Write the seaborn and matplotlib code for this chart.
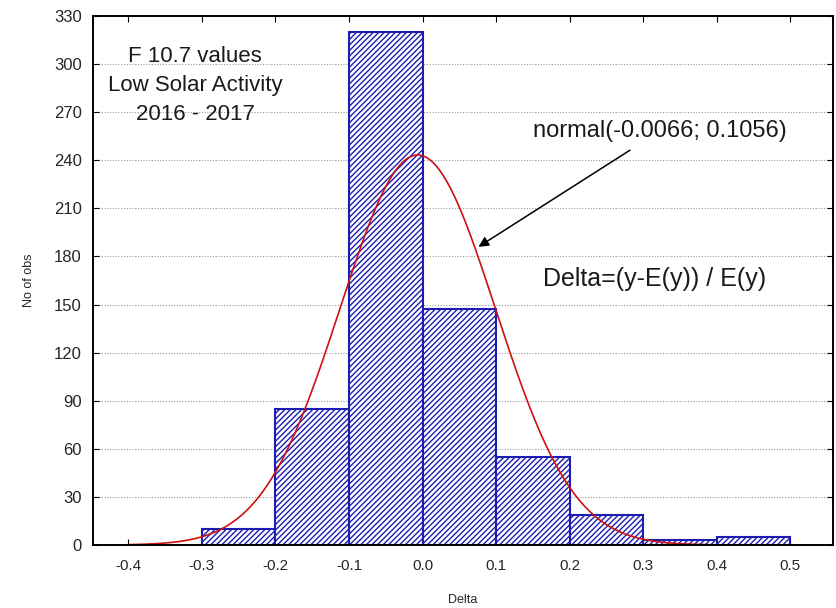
import numpy as np
import pandas as pd
import matplotlib
matplotlib.use("Agg")
import matplotlib.pyplot as plt
import seaborn as sns

# Data
bin_edges = [-0.3, -0.2, -0.1, 0.0, 0.1, 0.2, 0.3, 0.4, 0.5]
bin_counts = [10, 85, 320, 147, 55, 19, 3, 5]
fit_mean = -0.0066
fit_sd = 0.1056
x_ticks = [-0.4, -0.3, -0.2, -0.1, 0.0, 0.1, 0.2, 0.3, 0.4, 0.5]
y_ticks = [0, 30, 60, 90, 120, 150, 180, 210, 240, 270, 300, 330]

sns.set_style("white")
plt.rcParams['font.family'] = ['Liberation Sans', 'DejaVu Sans']
plt.rcParams['hatch.linewidth'] = 1.0

fig = plt.figure(figsize=(8.36, 6.08), dpi=100)
ax = fig.add_axes([93/836, 1-545/608, (833-93)/836, (545-16)/608])

centers = [(a + b) / 2 for a, b in zip(bin_edges[:-1], bin_edges[1:])]
df = pd.DataFrame({"Delta": centers, "n": bin_counts})
sns.histplot(data=df, x="Delta", weights="n", bins=bin_edges, ax=ax,
             stat="count", fill=True, facecolor="white", edgecolor="#1a1acc",
             linewidth=1.5, alpha=1)
for p in ax.patches:
    p.set_hatch("//////")
    p.set_edgecolor("#1c1cb0")

# fitted normal curve
N = sum(bin_counts)
w = 0.1
xs = np.linspace(-0.4, 0.39, 300)
ys = N * w / (fit_sd * np.sqrt(2 * np.pi)) * np.exp(-0.5 * ((xs - fit_mean) / fit_sd) ** 2)
sns.lineplot(x=xs, y=ys, ax=ax, color="#cc1111", linewidth=1.2)

ax.set_xlim(-0.448, 0.558)
ax.set_ylim(0, 330)
ax.set_xticks(x_ticks)
ax.set_xticklabels([f"{v:.1f}" for v in x_ticks])
ax.set_yticks(y_ticks)
ax.yaxis.grid(True, linestyle=(0, (1, 1.5)), color="#999999", linewidth=0.8)
ax.set_axisbelow(True)
ax.tick_params(axis="both", which="both", direction="in", length=4,
               top=True, right=True, bottom=True, left=True, color="black")
ax.tick_params(axis="y", labelsize=12, pad=8)
ax.tick_params(axis="x", labelsize=11, pad=10)
for s in ax.spines.values():
    s.set_color("black")
    s.set_linewidth(1.4)

ax.set_xlabel("Delta", fontsize=9, labelpad=15)
ax.set_ylabel("No of obs", fontsize=9, labelpad=14)

ax.text(0.138, 0.944, "F 10.7 values\nLow Solar Activity\n2016 - 2017",
        transform=ax.transAxes, ha="center", va="top", fontsize=16,
        linespacing=1.5, color="#1a1a1a")
ax.annotate("normal(-0.0066; 0.1056)", xy=(0.076, 186), xytext=(0.322, 258),
            ha="center", va="center", fontsize=17, color="#1a1a1a",
            arrowprops=dict(arrowstyle="-|>", color="black", lw=1.1,
                            shrinkA=6, shrinkB=0, mutation_scale=15))
ax.text(0.316, 166, "Delta=(y-E(y)) / E(y)", ha="center", va="center",
        fontsize=18, color="#1a1a1a")

fig.savefig("out.png", dpi=100)
